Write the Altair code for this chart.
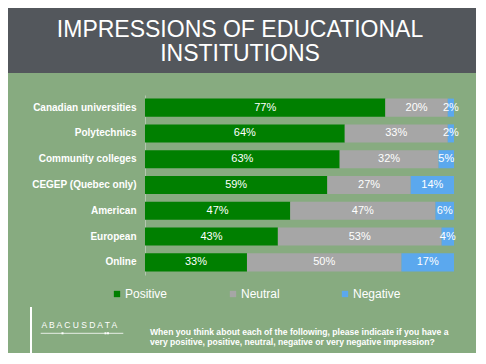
import altair as alt
import pandas as pd

TITLE_LINES = ["IMPRESSIONS OF EDUCATIONAL", "INSTITUTIONS"]
CATEGORIES = ["Canadian universities", "Polytechnics", "Community colleges",
              "CEGEP (Quebec only)", "American", "European", "Online"]
SERIES = ["Positive", "Neutral", "Negative"]
POSITIVE = [77, 64, 63, 59, 47, 43, 33]
NEUTRAL = [20, 33, 32, 27, 47, 53, 50]
NEGATIVE = [2, 2, 5, 14, 6, 4, 17]
COLORS = ["#007F00", "#A6A6A6", "#5BA8EE"]
QUESTION_LINES = ["When you think about each of the following, please indicate if you have a",
                  "very positive, positive, neutral, negative or very negative impression?"]
LOGO_TEXT = "A B A C U S  D A T A"

FONT = "Liberation Sans"

rows = []
for i, c in enumerate(CATEGORIES):
    for j, (s, vals) in enumerate(zip(SERIES, [POSITIVE, NEUTRAL, NEGATIVE])):
        rows.append({"category": c, "series": s, "value": vals[i], "order": j})
df = pd.DataFrame(rows)

base = (
    alt.Chart(df)
    .transform_joinaggregate(total="sum(value)", groupby=["category"])
    .transform_calculate(share="datum.value / datum.total")
    .transform_stack(stack="share", as_=["x0", "x1"], groupby=["category"],
                     sort=[alt.SortField("order", "ascending")])
    .transform_calculate(mid="(datum.x0 + datum.x1) / 2", label="datum.value + '%'")
)

xscale = alt.Scale(domain=[0, 1], nice=False, zero=True)
yenc = alt.Y("category:N", sort=CATEGORIES, title=None,
             scale=alt.Scale(paddingInner=0.3, paddingOuter=0.14),
             axis=alt.Axis(labelColor="white", labelFont=FONT, labelFontSize=10,
                           labelFontWeight="bold", ticks=False, tickSize=0,
                           labelPadding=9, domainColor="#B4C6B0", domainWidth=1,
                           grid=False, labelLimit=200))

bars = base.mark_bar().encode(
    x=alt.X("x0:Q", scale=xscale, axis=None),
    x2="x1:Q",
    y=yenc,
    color=alt.Color("series:N", sort=SERIES,
                    scale=alt.Scale(domain=SERIES, range=COLORS),
                    legend=alt.Legend(title=None, orient="none", legendX=-34, legendY=193,
                                      direction="horizontal", labelColor="white",
                                      labelFont=FONT, labelFontSize=12, symbolType="square",
                                      symbolSize=40, symbolStrokeWidth=0, labelOffset=2,
                                      columnPadding=59, padding=0)),
)

labels = base.mark_text(color="white", fontSize=11, font=FONT, baseline="middle").encode(
    x=alt.X("mid:Q", scale=xscale, axis=None),
    y=alt.Y("category:N", sort=CATEGORIES),
    text="label:N",
)

one = pd.DataFrame({"k": [0]})

header = alt.Chart(one).mark_rect(color="#53575C").encode(
    x=alt.value(-137), x2=alt.value(331), y=alt.value(-87), y2=alt.value(-22)
)

title = alt.Chart(one).mark_text(
    color="white", font=FONT, fontSize=23, align="center", baseline="alphabetic",
    lineHeight=23.5
).encode(x=alt.value(95), y=alt.value(-58), text=alt.value(TITLE_LINES))

vline = alt.Chart(one).mark_rule(color="white", strokeWidth=2).encode(
    x=alt.value(-114), y=alt.value(212), y2=alt.value(258)
)

logo = alt.Chart(one).mark_text(
    color="white", font=FONT, fontSize=8.5, align="left", baseline="alphabetic"
).encode(x=alt.value(-103.5), y=alt.value(232.7), text=alt.value(LOGO_TEXT))

logo_rule = alt.Chart(one).mark_rule(color="white", strokeWidth=0.8).encode(
    x=alt.value(-104.3), x2=alt.value(-21.7), y=alt.value(238.3)
)

dots = alt.Chart(pd.DataFrame({"px": [-82.5, -39.5, -37]})).mark_point(
    shape="square", filled=True, color="white", size=4, opacity=1
).encode(x=alt.X("px:Q", scale=None), y=alt.value(238.3))

question = alt.Chart(one).mark_text(
    color="white", font=FONT, fontSize=8.6, fontWeight="bold", align="left",
    baseline="alphabetic", lineHeight=10
).encode(x=alt.value(5), y=alt.value(240), text=alt.value(QUESTION_LINES))

chart = alt.layer(header, title, bars, labels, vline, logo, logo_rule, dots, question).properties(
    width=309, height=180,
    padding={"left": 137, "top": 87, "right": 22, "bottom": 78},
    autosize=alt.AutoSizeParams(type="none"),
    background="#87AB80",
).configure_view(stroke=None)

chart.save("out.html", embed_options={"renderer": "svg", "actions": False})
